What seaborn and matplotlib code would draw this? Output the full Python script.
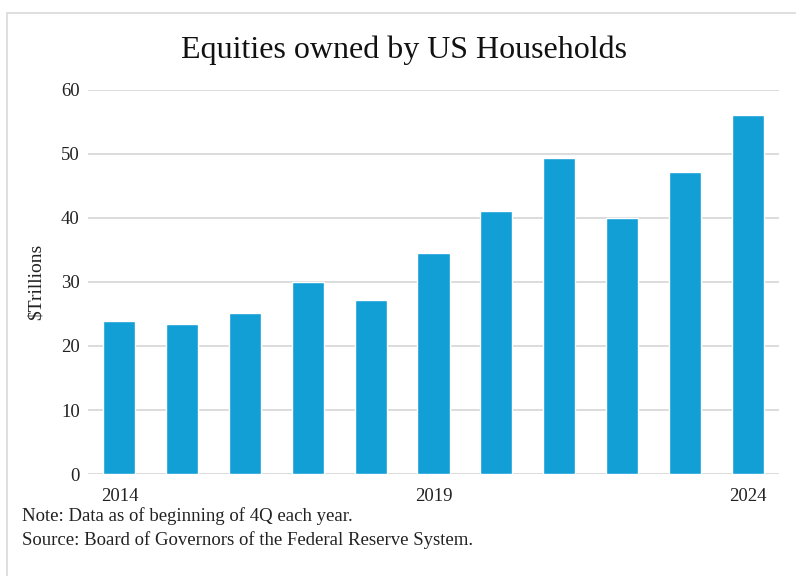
import pandas as pd
import matplotlib.pyplot as plt
import seaborn as sns
from matplotlib.patches import Rectangle

# dados (US$ trilhões, início do 4T)
anos = ['2014', '2015', '2016', '2017', '2018', '2019', '2020', '2021', '2022', '2023', '2024']
valores = [23.9, 23.4, 25.1, 30.0, 27.2, 34.5, 41.1, 49.4, 40.0, 47.1, 56.0]
rotulos_x = ['2014', '', '', '', '', '2019', '', '', '', '', '2024']
titulo = 'Equities owned by US Households'
nota = 'Note: Data as of beginning of 4Q each year.'
fonte = 'Source: Board of Governors of the Federal Reserve System.'

sns.set_theme(style="white")
plt.rcParams['font.family'] = ['Liberation Serif', 'DejaVu Serif']

df = pd.DataFrame({'ano': anos, 'valor': valores})

fig = plt.figure(figsize=(7.96, 5.76), dpi=100)
ax = fig.add_axes([0.1106, 0.177, 0.868, 0.667])

sns.barplot(data=df, x='ano', y='valor', color='#129fd6', saturation=1,
            width=0.51, ax=ax, zorder=3)

ax.set_ylim(0, 60)
ax.set_yticks(range(0, 61, 10))
ax.set_xlim(-0.5, len(anos) - 0.5)
ax.set_xticks(range(len(anos)))
ax.set_xticklabels(rotulos_x)
ax.grid(axis='y', color='#d9d9d9', linewidth=1.3, zorder=0)
for s in ax.spines.values():
    s.set_visible(False)
ax.tick_params(axis='both', length=0, labelsize=13.5, colors='#222222')
ax.tick_params(axis='x', pad=10)
ax.tick_params(axis='y', pad=6)
ax.set_xlabel('')
ax.set_ylabel('$Trillions', fontsize=14, color='#222222', labelpad=12)

fig.text(0.508, 0.912, titulo, ha='center', va='center', fontsize=23, color='#111111')
fig.text(0.028, 0.104, nota, ha='left', va='center', fontsize=13.5, color='#222222')
fig.text(0.028, 0.062, fonte, ha='left', va='center', fontsize=13.5, color='#222222')

# moldura clara em volta do gráfico
fig.patches.append(Rectangle((0.009, -0.01), 1.5, 0.987, transform=fig.transFigure,
                             fill=False, edgecolor='#d9d9d9', linewidth=1.2))

fig.savefig('out.png', dpi=100)
